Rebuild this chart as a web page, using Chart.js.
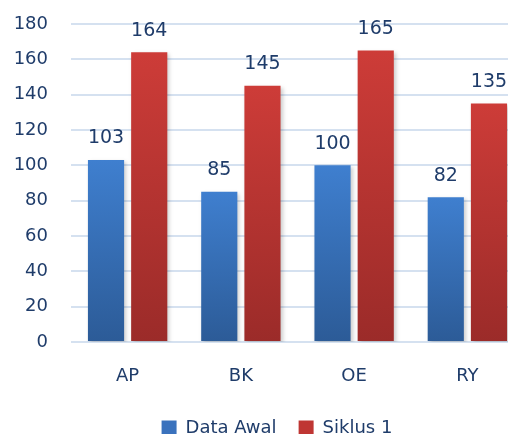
<!DOCTYPE html>
<html lang="id">
<head>
<meta charset="UTF-8">
<title>Data Awal vs Siklus 1</title>
<script src="https://cdn.jsdelivr.net/npm/chart.js"></script>
<style>
    html, body { margin: 0; padding: 0; background: #fff; overflow: hidden; }
    .wrap { width: 524px; height: 447px; }
</style>
</head>
<body>
<div class="wrap"><canvas id="barChart" width="524" height="447"></canvas></div>
<script>
    const categories = ['AP', 'BK', 'OE', 'RY'];
    const dataAwal = [103, 85, 100, 82];
    const siklus1 = [164, 145, 165, 135];
    const seriesNames = ['Data Awal', 'Siklus 1'];

    const textColor = '#1f3c6a';
    const blueStops = ['#3f7fcf', '#2c5b97'];
    const redStops = ['#cd3c38', '#9b2b29'];

    // vertical gradient per bar, top to bottom
    function barGradient(stops) {
        return function(ctx) {
            const chart = ctx.chart;
            if (!chart.chartArea || ctx.type !== 'data') return stops[0];
            const y = chart.scales.y;
            const top = y.getPixelForValue(ctx.raw);
            const bottom = y.getPixelForValue(0);
            const g = chart.ctx.createLinearGradient(0, top, 0, bottom);
            g.addColorStop(0, stops[0]);
            g.addColorStop(1, stops[1]);
            return g;
        };
    }

    const barShadow = {
        id: 'barShadow',
        beforeDatasetsDraw(chart) {
            const c = chart.ctx;
            c.save();
            c.shadowColor = 'rgba(0,0,0,0.2)';
            c.shadowBlur = 4;
            c.shadowOffsetX = 2;
            c.shadowOffsetY = 2;
        },
        afterDatasetsDraw(chart) {
            chart.ctx.restore();
        }
    };

    const valueLabels = {
        id: 'valueLabels',
        afterDatasetsDraw(chart) {
            const c = chart.ctx;
            c.save();
            c.font = '19px "DejaVu Sans"';
            c.fillStyle = textColor;
            c.textAlign = 'center';
            c.textBaseline = 'bottom';
            chart.data.datasets.forEach((ds, i) => {
                chart.getDatasetMeta(i).data.forEach((bar, j) => {
                    c.fillText(ds.data[j], bar.x, bar.y - 12);
                });
            });
            c.restore();
        }
    };

    // nudge the legend a little to the right, like the original
    const legendShift = {
        id: 'legendShift',
        afterLayout(chart) {
            chart.legend.left += 15;
            chart.legend.right += 15;
        }
    };

    new Chart(document.getElementById('barChart'), {
        type: 'bar',
        data: {
            labels: categories,
            datasets: [
                { label: seriesNames[0], data: dataAwal, backgroundColor: barGradient(blueStops) },
                { label: seriesNames[1], data: siklus1, backgroundColor: barGradient(redStops) }
            ]
        },
        options: {
            responsive: false,
            animation: false,
            categoryPercentage: 0.763,
            barPercentage: 0.837,
            layout: { padding: { top: 24, left: 0, right: 0, bottom: 0 } },
            scales: {
                x: {
                    grid: { display: false },
                    border: { display: false },
                    ticks: { color: textColor, font: { family: 'DejaVu Sans', size: 18 }, padding: 16 },
                    afterFit(scale) { scale.height = 55; }
                },
                y: {
                    min: 0,
                    max: 180,
                    ticks: { stepSize: 20, color: textColor, font: { family: 'DejaVu Sans', size: 18 }, padding: 10 },
                    // invisible tick marks push the labels left without adding top padding
                    grid: { color: '#d5e1f0', lineWidth: 2, drawTicks: true, tickLength: 13, tickColor: 'rgba(0,0,0,0)' },
                    border: { display: false },
                    afterFit(scale) { scale.width = 71; }
                }
            },
            plugins: {
                tooltip: { enabled: false },
                legend: {
                    position: 'bottom',
                    labels: {
                        color: textColor,
                        font: { family: 'DejaVu Sans', size: 18 },
                        boxWidth: 15,
                        boxHeight: 15,
                        padding: 22,
                        generateLabels() {
                            return [
                                { text: seriesNames[0], fillStyle: '#3a72bd', strokeStyle: 'rgba(0,0,0,0)', lineWidth: 0, fontColor: textColor, datasetIndex: 0 },
                                { text: seriesNames[1], fillStyle: '#bf3633', strokeStyle: 'rgba(0,0,0,0)', lineWidth: 0, fontColor: textColor, datasetIndex: 1 }
                            ];
                        }
                    }
                }
            }
        },
        plugins: [barShadow, valueLabels, legendShift]
    });
</script>
</body>
</html>
